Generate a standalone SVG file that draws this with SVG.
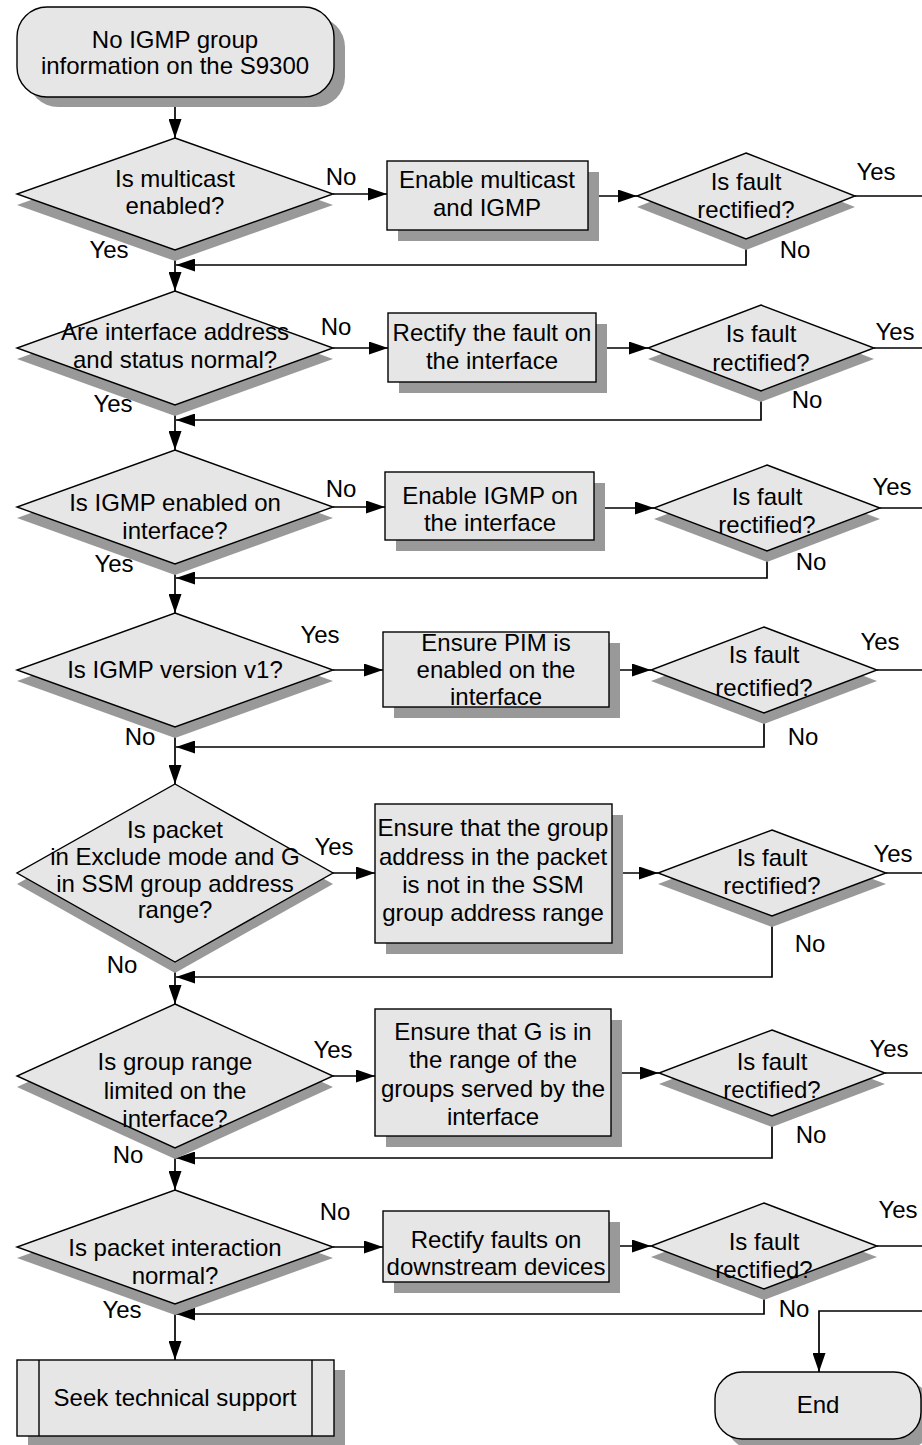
<svg xmlns="http://www.w3.org/2000/svg" width="922" height="1445" viewBox="0 0 922 1445">
  <defs>
    <style>
      .shape { fill: #e6e6e6; stroke: #000; stroke-width: 1.4; }
      .shadow { fill: #999999; stroke: none; }
      .conn { fill: none; stroke: #000; stroke-width: 1.7; }
      .arrowed { marker-end: url(#arr); }
      text { font-family: "Liberation Sans", Arial, sans-serif; font-size: 24px; fill: #000; text-anchor: middle; }
    </style>
    <marker id="arr" markerWidth="19" markerHeight="13" refX="19" refY="6.5" orient="auto" markerUnits="userSpaceOnUse">
      <path d="M0,0 L19,6.5 L0,13 z" fill="#000"/>
    </marker>
  </defs>

  <rect width="922" height="1445" fill="#ffffff"/>

  <!-- connectors -->
  <g id="connectors">
    <!-- main column -->
    <path class="conn arrowed" d="M175,97 V138"/>
    <path class="conn arrowed" d="M175,250 V291"/>
    <path class="conn arrowed" d="M175,405 V450"/>
    <path class="conn arrowed" d="M175,564 V613"/>
    <path class="conn arrowed" d="M175,727 V784"/>
    <path class="conn arrowed" d="M175,962 V1004"/>
    <path class="conn arrowed" d="M175,1148 V1190"/>
    <path class="conn arrowed" d="M175,1304 V1360"/>

    <!-- decision to action -->
    <path class="conn arrowed" d="M333,194 H387"/>
    <path class="conn arrowed" d="M333,348 H388"/>
    <path class="conn arrowed" d="M333,507 H385"/>
    <path class="conn arrowed" d="M333,670 H383"/>
    <path class="conn arrowed" d="M333,873 H375"/>
    <path class="conn arrowed" d="M333,1076 H375"/>
    <path class="conn arrowed" d="M333,1247 H383"/>

    <!-- action to check -->
    <path class="conn arrowed" d="M588,196 H637"/>
    <path class="conn arrowed" d="M596,348 H648"/>
    <path class="conn arrowed" d="M594,508 H654"/>
    <path class="conn arrowed" d="M609,670 H651"/>
    <path class="conn arrowed" d="M612,873 H658"/>
    <path class="conn arrowed" d="M611,1073 H659"/>
    <path class="conn arrowed" d="M609,1246 H651"/>

    <!-- check Yes branches leaving to the right -->
    <path class="conn" d="M855,196 H922"/>
    <path class="conn" d="M874,348 H922"/>
    <path class="conn" d="M880,508 H922"/>
    <path class="conn" d="M877,670 H922"/>
    <path class="conn" d="M886,873 H922"/>
    <path class="conn" d="M885,1073 H922"/>
    <path class="conn" d="M877,1246 H922"/>

    <!-- check No branches back to main column -->
    <path class="conn arrowed" d="M746,239 V265 H176"/>
    <path class="conn arrowed" d="M761,391 V420 H176"/>
    <path class="conn arrowed" d="M767,551 V578 H176"/>
    <path class="conn arrowed" d="M764,713 V747 H176"/>
    <path class="conn arrowed" d="M772,916 V977 H176"/>
    <path class="conn arrowed" d="M772,1116 V1158 H176"/>
    <path class="conn arrowed" d="M764,1289 V1314 H176"/>

    <!-- into End -->
    <path class="conn arrowed" d="M922,1311 H819 V1372"/>

    <!-- branch labels -->
    <text x="341" y="185">No</text>
    <text x="876" y="180">Yes</text>
    <text x="795" y="258">No</text>
    <text x="109" y="258">Yes</text>

    <text x="336" y="335">No</text>
    <text x="895" y="340">Yes</text>
    <text x="807" y="408">No</text>
    <text x="113" y="412">Yes</text>

    <text x="341" y="497">No</text>
    <text x="892" y="495">Yes</text>
    <text x="811" y="570">No</text>
    <text x="114" y="572">Yes</text>

    <text x="320" y="643">Yes</text>
    <text x="880" y="650">Yes</text>
    <text x="803" y="745">No</text>
    <text x="140" y="745">No</text>

    <text x="334" y="855">Yes</text>
    <text x="893" y="862">Yes</text>
    <text x="810" y="952">No</text>
    <text x="122" y="973">No</text>

    <text x="333" y="1058">Yes</text>
    <text x="889" y="1057">Yes</text>
    <text x="811" y="1143">No</text>
    <text x="128" y="1163">No</text>

    <text x="335" y="1220">No</text>
    <text x="898" y="1218">Yes</text>
    <text x="794" y="1317">No</text>
    <text x="122" y="1318">Yes</text>
  </g>

  <!-- start -->
  <g id="start">
    <rect class="shadow" x="28" y="17" width="317" height="90" rx="30"/>
    <rect class="shape" x="17" y="7" width="317" height="90" rx="30"/>
    <text x="175" y="48">No IGMP group</text>
    <text x="175" y="74">information on the S9300</text>
  </g>

  <!-- row 1 -->
  <g id="q-multicast">
    <polygon class="shadow" points="175,149 333,205 175,261 17,205"/>
    <polygon class="shape" points="175,138 333,194 175,250 17,194"/>
    <text x="175" y="187">Is multicast</text>
    <text x="175" y="214">enabled?</text>
  </g>
  <g id="a-multicast">
    <rect class="shadow" x="398" y="172" width="201" height="69"/>
    <rect class="shape" x="387" y="161" width="201" height="69"/>
    <text x="487" y="188">Enable multicast</text>
    <text x="487" y="216">and IGMP</text>
  </g>
  <g id="c-multicast">
    <polygon class="shadow" points="746,164 855,207 746,250 637,207"/>
    <polygon class="shape" points="746,153 855,196 746,239 637,196"/>
    <text x="746" y="190">Is fault</text>
    <text x="746" y="218">rectified?</text>
  </g>

  <!-- row 2 -->
  <g id="q-interface">
    <polygon class="shadow" points="175,302 333,359 175,416 17,359"/>
    <polygon class="shape" points="175,291 333,348 175,405 17,348"/>
    <text x="175" y="340">Are interface address</text>
    <text x="175" y="368">and status normal?</text>
  </g>
  <g id="a-interface">
    <rect class="shadow" x="399" y="324" width="208" height="69"/>
    <rect class="shape" x="388" y="313" width="208" height="69"/>
    <text x="492" y="341">Rectify the fault on</text>
    <text x="492" y="369">the interface</text>
  </g>
  <g id="c-interface">
    <polygon class="shadow" points="761,316 874,359 761,402 648,359"/>
    <polygon class="shape" points="761,305 874,348 761,391 648,348"/>
    <text x="761" y="342">Is fault</text>
    <text x="761" y="371">rectified?</text>
  </g>

  <!-- row 3 -->
  <g id="q-igmp">
    <polygon class="shadow" points="175,461 333,518 175,575 17,518"/>
    <polygon class="shape" points="175,450 333,507 175,564 17,507"/>
    <text x="175" y="511">Is IGMP enabled on</text>
    <text x="175" y="539">interface?</text>
  </g>
  <g id="a-igmp">
    <rect class="shadow" x="396" y="483" width="209" height="68"/>
    <rect class="shape" x="385" y="472" width="209" height="68"/>
    <text x="490" y="504">Enable IGMP on</text>
    <text x="490" y="531">the interface</text>
  </g>
  <g id="c-igmp">
    <polygon class="shadow" points="767,476 880,519 767,562 654,519"/>
    <polygon class="shape" points="767,465 880,508 767,551 654,508"/>
    <text x="767" y="505">Is fault</text>
    <text x="767" y="533">rectified?</text>
  </g>

  <!-- row 4 -->
  <g id="q-version">
    <polygon class="shadow" points="175,624 333,681 175,738 17,681"/>
    <polygon class="shape" points="175,613 333,670 175,727 17,670"/>
    <text x="175" y="678">Is IGMP version v1?</text>
  </g>
  <g id="a-version">
    <rect class="shadow" x="394" y="643" width="226" height="75"/>
    <rect class="shape" x="383" y="632" width="226" height="75"/>
    <text x="496" y="651">Ensure PIM is</text>
    <text x="496" y="678">enabled on the</text>
    <text x="496" y="705">interface</text>
  </g>
  <g id="c-version">
    <polygon class="shadow" points="764,638 877,681 764,724 651,681"/>
    <polygon class="shape" points="764,627 877,670 764,713 651,670"/>
    <text x="764" y="663">Is fault</text>
    <text x="764" y="696">rectified?</text>
  </g>

  <!-- row 5 -->
  <g id="q-ssm">
    <polygon class="shadow" points="175,795 333,884 175,973 17,884"/>
    <polygon class="shape" points="175,784 333,873 175,962 17,873"/>
    <text x="175" y="838">Is packet</text>
    <text x="175" y="865">in Exclude mode and G</text>
    <text x="175" y="892">in SSM group address</text>
    <text x="175" y="918">range?</text>
  </g>
  <g id="a-ssm">
    <rect class="shadow" x="386" y="815" width="237" height="139"/>
    <rect class="shape" x="375" y="804" width="237" height="139"/>
    <text x="493" y="836">Ensure that the group</text>
    <text x="493" y="865">address in the packet</text>
    <text x="493" y="893">is not in the SSM</text>
    <text x="493" y="921">group address range</text>
  </g>
  <g id="c-ssm">
    <polygon class="shadow" points="772,841 886,884 772,927 658,884"/>
    <polygon class="shape" points="772,830 886,873 772,916 658,873"/>
    <text x="772" y="866">Is fault</text>
    <text x="772" y="894">rectified?</text>
  </g>

  <!-- row 6 -->
  <g id="q-range">
    <polygon class="shadow" points="175,1015 333,1087 175,1159 17,1087"/>
    <polygon class="shape" points="175,1004 333,1076 175,1148 17,1076"/>
    <text x="175" y="1070">Is group range</text>
    <text x="175" y="1099">limited on the</text>
    <text x="175" y="1127">interface?</text>
  </g>
  <g id="a-range">
    <rect class="shadow" x="386" y="1020" width="236" height="127"/>
    <rect class="shape" x="375" y="1009" width="236" height="127"/>
    <text x="493" y="1040">Ensure that G is in</text>
    <text x="493" y="1068">the range of the</text>
    <text x="493" y="1097">groups served by the</text>
    <text x="493" y="1125">interface</text>
  </g>
  <g id="c-range">
    <polygon class="shadow" points="772,1041 885,1084 772,1127 659,1084"/>
    <polygon class="shape" points="772,1030 885,1073 772,1116 659,1073"/>
    <text x="772" y="1070">Is fault</text>
    <text x="772" y="1098">rectified?</text>
  </g>

  <!-- row 7 -->
  <g id="q-packet">
    <polygon class="shadow" points="175,1201 333,1258 175,1315 17,1258"/>
    <polygon class="shape" points="175,1190 333,1247 175,1304 17,1247"/>
    <text x="175" y="1256">Is packet interaction</text>
    <text x="175" y="1284">normal?</text>
  </g>
  <g id="a-packet">
    <rect class="shadow" x="394" y="1222" width="226" height="71"/>
    <rect class="shape" x="383" y="1211" width="226" height="71"/>
    <text x="496" y="1248">Rectify faults on</text>
    <text x="496" y="1275">downstream devices</text>
  </g>
  <g id="c-packet">
    <polygon class="shadow" points="764,1214 877,1257 764,1300 651,1257"/>
    <polygon class="shape" points="764,1203 877,1246 764,1289 651,1246"/>
    <text x="764" y="1250">Is fault</text>
    <text x="764" y="1278">rectified?</text>
  </g>

  <!-- terminals -->
  <g id="support">
    <rect class="shadow" x="28" y="1370" width="317" height="76"/>
    <rect class="shape" x="17" y="1360" width="317" height="76"/>
    <line class="shape" x1="39" y1="1360" x2="39" y2="1436"/>
    <line class="shape" x1="312" y1="1360" x2="312" y2="1436"/>
    <text x="175" y="1406">Seek technical support</text>
  </g>
  <g id="end">
    <rect class="shadow" x="726" y="1382" width="206" height="67" rx="27"/>
    <rect class="shape" x="715" y="1372" width="206" height="67" rx="27"/>
    <text x="818" y="1413">End</text>
  </g>
</svg>
